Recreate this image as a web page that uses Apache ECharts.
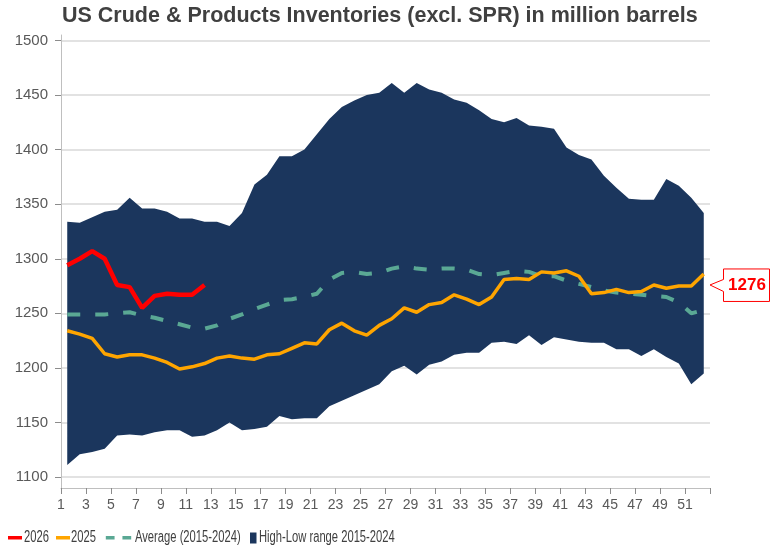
<!DOCTYPE html>
<html><head><meta charset="utf-8">
<script src="https://cdn.jsdelivr.net/npm/echarts@6/dist/echarts.min.js"></script>
<style>html,body{margin:0;padding:0;background:#fff}#c{width:772px;height:551px}</style>
</head><body><div id="c"></div>
<script>
const weeks = ['1','2','3','4','5','6','7','8','9','10','11','12','13','14','15','16','17','18','19','20','21','22','23','24','25','26','27','28','29','30','31','32','33','34','35','36','37','38','39','40','41','42','43','44','45','46','47','48','49','50','51','52'];
const yTicks = [1100,1150,1200,1250,1300,1350,1400,1450,1500];
const s2026 = [1294,1300,1307,1300,1276,1274,1255,1266,1268,1267,1267,1276];
const s2025 = [1234,1231,1227,1213,1210,1212,1212,1209,1205,1199,1201,1204,1209,1211,1209,1208,1212,1213,1218,1223,1222,1235,1241,1234,1230,1239,1245,1255,1251,1258,1260,1267,1263,1258,1265,1281,1282,1281,1288,1287,1289,1284,1268,1269,1272,1269,1270,1276,1273,1275,1275,1286];
const avg = [1249,1249,1249,1249,1250,1251,1248,1246,1243,1240,1237,1236,1239,1245,1249,1254,1258,1262,1263,1265,1268,1281,1287,1288,1286,1287,1291,1293,1291,1290,1291,1291,1290,1286,1285,1287,1289,1288,1284,1284,1280,1277,1274,1271,1269,1268,1267,1266,1265,1260,1250,1253];
const rangeHigh = [1334,1333,1338,1343,1345,1356,1346,1346,1343,1337,1337,1334,1334,1330,1342,1368,1377,1394,1394,1400,1414,1428,1439,1445,1450,1452,1461,1452,1461,1455,1452,1446,1443,1436,1428,1425,1429,1422,1421,1419,1402,1395,1391,1376,1365,1355,1354,1354,1373,1367,1356,1342];
const rangeLow = [1111,1121,1123,1126,1138,1139,1138,1141,1143,1143,1137,1138,1143,1150,1143,1144,1146,1156,1153,1154,1154,1165,1170,1175,1180,1185,1197,1202,1194,1203,1206,1212,1214,1214,1223,1224,1222,1230,1221,1228,1226,1224,1223,1223,1217,1217,1211,1217,1210,1204,1185,1195];
const legendNames = ['2026', '2025', 'Average (2015-2024)', 'High-Low range 2015-2024'];

const NAVY = '#1b365d', RED = '#ff0000', ORANGE = '#ffa500', TEAL = '#5aa894';
const FONT = 'Liberation Sans, Arial, sans-serif';

const chart = echarts.init(document.getElementById('c'), null, {renderer: 'canvas'});
const legendBase = {padding: 0, formatter: () => '', selectedMode: false};
chart.setOption({
  animation: false,
  backgroundColor: '#fff',
  title: {
    text: 'US Crude & Products Inventories (excl. SPR) in million barrels',
    left: 62, top: 5, padding: 0,
    textStyle: {fontFamily: FONT, fontWeight: 'bold', fontSize: 21.5, color: '#404040'}
  },
  legend: [
    Object.assign({data: [legendNames[0]], left: 8, top: 536, itemWidth: 14, itemHeight: 3.5, icon: 'rect'}, legendBase),
    Object.assign({data: [legendNames[1]], left: 56, top: 536, itemWidth: 14, itemHeight: 3.5, icon: 'rect'}, legendBase),
    Object.assign({data: [legendNames[2]], left: 104, top: 536, itemWidth: 29, itemHeight: 3.5,
      icon: 'path://M0,0h10v4h-10z M19,0h10v4h-10z'}, legendBase),
    Object.assign({data: [legendNames[3]], left: 250, top: 532.5, itemWidth: 6.5, itemHeight: 11, icon: 'rect'}, legendBase)
  ],
  grid: {left: 61, right: 62, top: 35, bottom: 63, containLabel: false},
  xAxis: {
    type: 'category', data: weeks, boundaryGap: true,
    axisLine: {lineStyle: {color: '#bfbfbf', width: 1}},
    axisTick: {show: true, interval: 1, length: 6, lineStyle: {color: '#8c8c8c'}},
    axisLabel: {
      interval: 1, margin: 10,
      formatter: v => '{a|' + v + '}',
      rich: {a: {fontFamily: FONT, fontSize: 14, color: '#595959', padding: [0, 12.5, 0, 0]}}
    },
    splitLine: {show: false}
  },
  yAxis: {
    type: 'value', min: 1090, max: 1505,
    axisLine: {show: true, lineStyle: {color: '#bfbfbf', width: 1}},
    axisTick: {show: true, length: 6, customValues: yTicks, lineStyle: {color: '#8c8c8c'}},
    axisLabel: {customValues: yTicks, margin: 13, fontFamily: FONT, fontSize: 15, color: '#595959',
      formatter: v => String(v)},
    splitLine: {show: true, lineStyle: {color: '#d9d9d9', width: 1.5}}
  },
  series: [
    {name: 'low', type: 'line', stack: 'band', data: rangeLow, symbol: 'none', silent: true,
     lineStyle: {opacity: 0}, itemStyle: {color: NAVY}},
    {name: legendNames[3], type: 'line', stack: 'band', symbol: 'none', silent: true,
     data: rangeHigh.map((h, i) => h - rangeLow[i]),
     color: NAVY, itemStyle: {color: NAVY}, lineStyle: {opacity: 0, width: 0},
     areaStyle: {color: NAVY, opacity: 1}},
    {name: legendNames[2], type: 'line', data: avg, symbol: 'none',
     color: TEAL, itemStyle: {color: TEAL}, lineStyle: {color: TEAL, width: 4, type: [13, 15]}},
    {name: legendNames[1], type: 'line', data: s2025, symbol: 'none',
     color: ORANGE, itemStyle: {color: ORANGE}, lineStyle: {color: ORANGE, width: 3.5}},
    {name: legendNames[0], type: 'line', data: s2026, symbol: 'none',
     color: RED, itemStyle: {color: RED}, lineStyle: {color: RED, width: 4.5}}
  ]
});

const last = s2026[s2026.length - 1];
const yPix = chart.convertToPixel({yAxisIndex: 0}, last);
const xTip = chart.getWidth() - 62;
const legendX = [24, 71, 135, 259];
const graphics = legendNames.map((name, i) => ({
  type: 'text', id: 'lg' + i, x: legendX[i], y: 538, scaleX: 0.7,
  style: {text: name, fontFamily: FONT, fontSize: 16, fill: '#404040', align: 'left', verticalAlign: 'middle'}
}));
graphics.push(
  {type: 'polygon', id: 'callout', x: xTip, y: yPix, z: 100,
   shape: {points: [[0,0],[13.5,-5.5],[13.5,-16],[59.5,-16],[59.5,16.5],[13.5,16.5],[13.5,6.5]]},
   style: {fill: '#fff', stroke: RED, lineWidth: 1}},
  {type: 'text', id: 'calloutText', x: xTip + 37, y: yPix + 0.5, z: 101,
   style: {text: String(last), fontFamily: FONT, fontWeight: 'bold', fontSize: 17, fill: RED,
           align: 'center', verticalAlign: 'middle'}}
);
chart.setOption({graphic: graphics});
</script></body></html>
